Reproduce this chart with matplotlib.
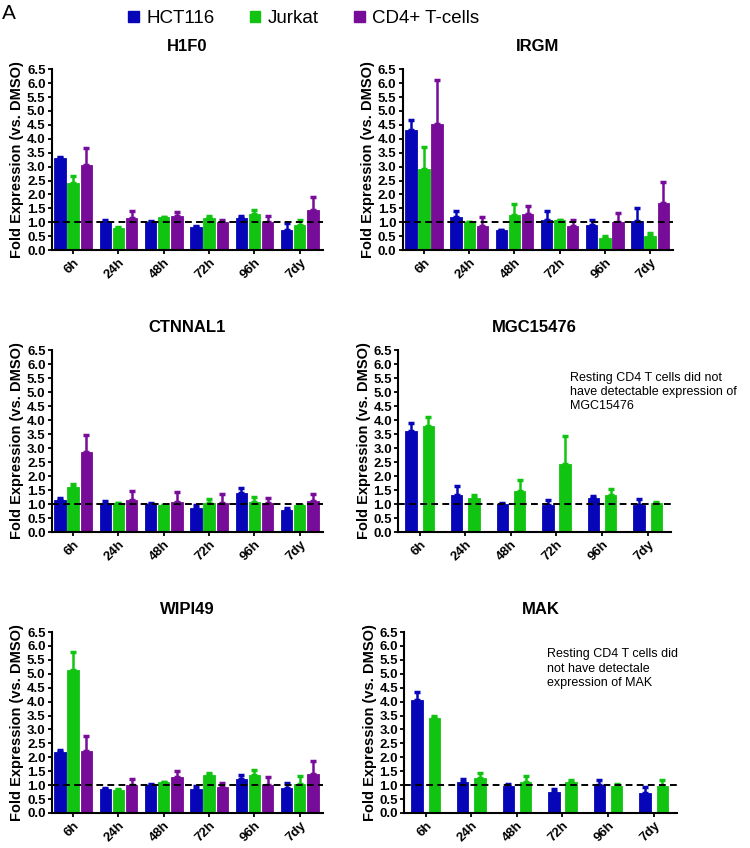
import numpy as np
import matplotlib.pyplot as plt
from matplotlib.patches import Patch

plt.rcParams['font.family'] = ['Liberation Sans', 'DejaVu Sans']

timepoints = ['6h', '24h', '48h', '72h', '96h', '7dy']
cells = ['HCT116', 'Jurkat', 'CD4+ T-cells']
colors = ['#0606b8', '#12c412', '#760c98']

# mean fold expression and upper error (mean + SEM) per gene, per cell line
h1f0_mean = [[3.32, 1.00, 1.00, 0.83, 1.15, 0.72],
             [2.42, 0.80, 1.19, 1.17, 1.29, 0.90],
             [3.05, 1.15, 1.22, 1.00, 1.00, 1.43]]
h1f0_top = [[3.33, 1.08, 1.03, 0.87, 1.24, 0.97],
            [2.65, 0.82, 1.19, 1.23, 1.45, 1.08],
            [3.66, 1.40, 1.38, 1.07, 1.22, 1.90]]

irgm_mean = [[4.30, 1.20, 0.72, 1.10, 0.90, 1.05],
             [2.90, 1.00, 1.26, 1.10, 0.43, 0.50],
             [4.52, 0.88, 1.30, 0.88, 1.02, 1.70]]
irgm_top = [[4.68, 1.42, 0.74, 1.40, 1.10, 1.50],
            [3.70, 1.02, 1.65, 1.10, 0.52, 0.62],
            [6.12, 1.20, 1.60, 1.10, 1.35, 2.45]]

ctnnal1_mean = [[1.15, 1.00, 1.00, 0.85, 1.40, 0.80],
                [1.62, 1.02, 0.95, 1.05, 1.08, 0.97],
                [2.87, 1.15, 1.08, 1.05, 1.05, 1.12]]
ctnnal1_top = [[1.22, 1.10, 1.05, 0.97, 1.57, 0.85],
               [1.72, 1.03, 0.97, 1.17, 1.26, 0.97],
               [3.45, 1.48, 1.43, 1.35, 1.22, 1.37]]

mgc_mean = [[3.60, 1.33, 1.00, 0.95, 1.20, 0.97],
            [3.80, 1.20, 1.47, 2.42, 1.32, 1.03]]
mgc_top = [[3.90, 1.65, 1.03, 1.15, 1.27, 1.17],
           [4.12, 1.33, 1.85, 3.42, 1.52, 1.08]]

wipi49_mean = [[2.20, 0.85, 1.00, 0.87, 1.22, 0.88],
               [5.15, 0.82, 1.10, 1.37, 1.37, 1.03],
               [2.22, 1.02, 1.28, 0.95, 1.02, 1.40]]
wipi49_top = [[2.28, 0.88, 1.05, 0.97, 1.35, 1.08],
              [5.80, 0.85, 1.10, 1.42, 1.55, 1.33],
              [2.78, 1.22, 1.50, 1.07, 1.30, 1.87]]

mak_mean = [[4.05, 1.10, 0.98, 0.77, 1.02, 0.70],
            [3.40, 1.27, 1.10, 1.12, 0.98, 0.98]]
mak_top = [[4.33, 1.22, 1.05, 0.87, 1.20, 0.93],
           [3.50, 1.45, 1.32, 1.17, 1.03, 1.20]]

mgc_note = 'Resting CD4 T cells did not\nhave detectable expression of\nMGC15476'
mak_note = 'Resting CD4 T cells did\nnot have detectale\nexpression of MAK'

panels = [
    ('H1F0', h1f0_mean, h1f0_top, [0.069, 0.705, 0.361, 0.2134], None),
    ('IRGM', irgm_mean, irgm_top, [0.537, 0.705, 0.360, 0.2134], None),
    ('CTNNAL1', ctnnal1_mean, ctnnal1_top, [0.069, 0.3726, 0.361, 0.2146], None),
    ('MGC15476', mgc_mean, mgc_top, [0.531, 0.3726, 0.363, 0.2146], (0.632, 0.88, mgc_note)),
    ('WIPI49', wipi49_mean, wipi49_top, [0.069, 0.0413, 0.361, 0.2134], None),
    ('MAK', mak_mean, mak_top, [0.539, 0.0413, 0.363, 0.2134], (0.525, 0.91, mak_note)),
]

fig = plt.figure(figsize=(7.5, 8.48), dpi=100)
x = np.arange(len(timepoints))
width = 0.25

for title, means, tops, rect, note in panels:
    ax = fig.add_axes(rect)
    n = len(means)
    if n == 3:
        offsets = [-0.29, 0, 0.29]
    else:
        offsets = [-0.19, 0.19]
    for i in range(n):
        m = np.array(means[i])
        err = np.array(tops[i]) - m
        ax.bar(x + offsets[i], m, width, color=colors[i],
               edgecolor=colors[i], linewidth=0.6, zorder=2)
        ax.errorbar(x + offsets[i], m, yerr=[np.zeros_like(err), err],
                    fmt='none', ecolor=colors[i], elinewidth=1.8,
                    capsize=2.5, capthick=2.5, zorder=2)
    ax.axhline(1.0, color='black', linestyle=(0, (3.5, 2.2)), linewidth=1.4, zorder=3)
    ax.set_xlim(-0.47, 5.5)
    ax.set_ylim(0, 6.5)
    ax.set_yticks(np.arange(0, 6.51, 0.5))
    ax.set_yticklabels(['%.1f' % v for v in np.arange(0, 6.51, 0.5)],
                       fontsize=9.5, fontweight='bold')
    ax.set_xticks(x)
    ax.set_xticklabels(timepoints, rotation=45, ha='right',
                       rotation_mode='anchor', fontsize=9.5, fontweight='bold')
    for s in ['top', 'right']:
        ax.spines[s].set_visible(False)
    for s in ['left', 'bottom']:
        ax.spines[s].set_linewidth(1.5)
    ax.tick_params(width=1.3, length=3, pad=1.5)
    ax.set_ylabel('Fold Expression (vs. DMSO)', fontsize=10.5,
                  fontweight='bold', labelpad=2)
    ax.set_title(title, fontsize=12, fontweight='bold', pad=13)
    if note:
        nx_, ny_, txt = note
        ax.text(nx_, ny_, txt, transform=ax.transAxes,
                fontsize=9, va='top', ha='left', linespacing=1.25)

handles = [Patch(facecolor=c, edgecolor=c) for c in colors]
fig.legend(handles, cells, loc='upper center', bbox_to_anchor=(0.405, 1.008),
           ncol=3, frameon=False, fontsize=13.5, handlelength=0.55,
           handleheight=0.55, handletextpad=0.4, columnspacing=1.9)
fig.text(0.003, 0.995, 'A', fontsize=15, va='top', ha='left')

fig.savefig('out.png', dpi=100)
